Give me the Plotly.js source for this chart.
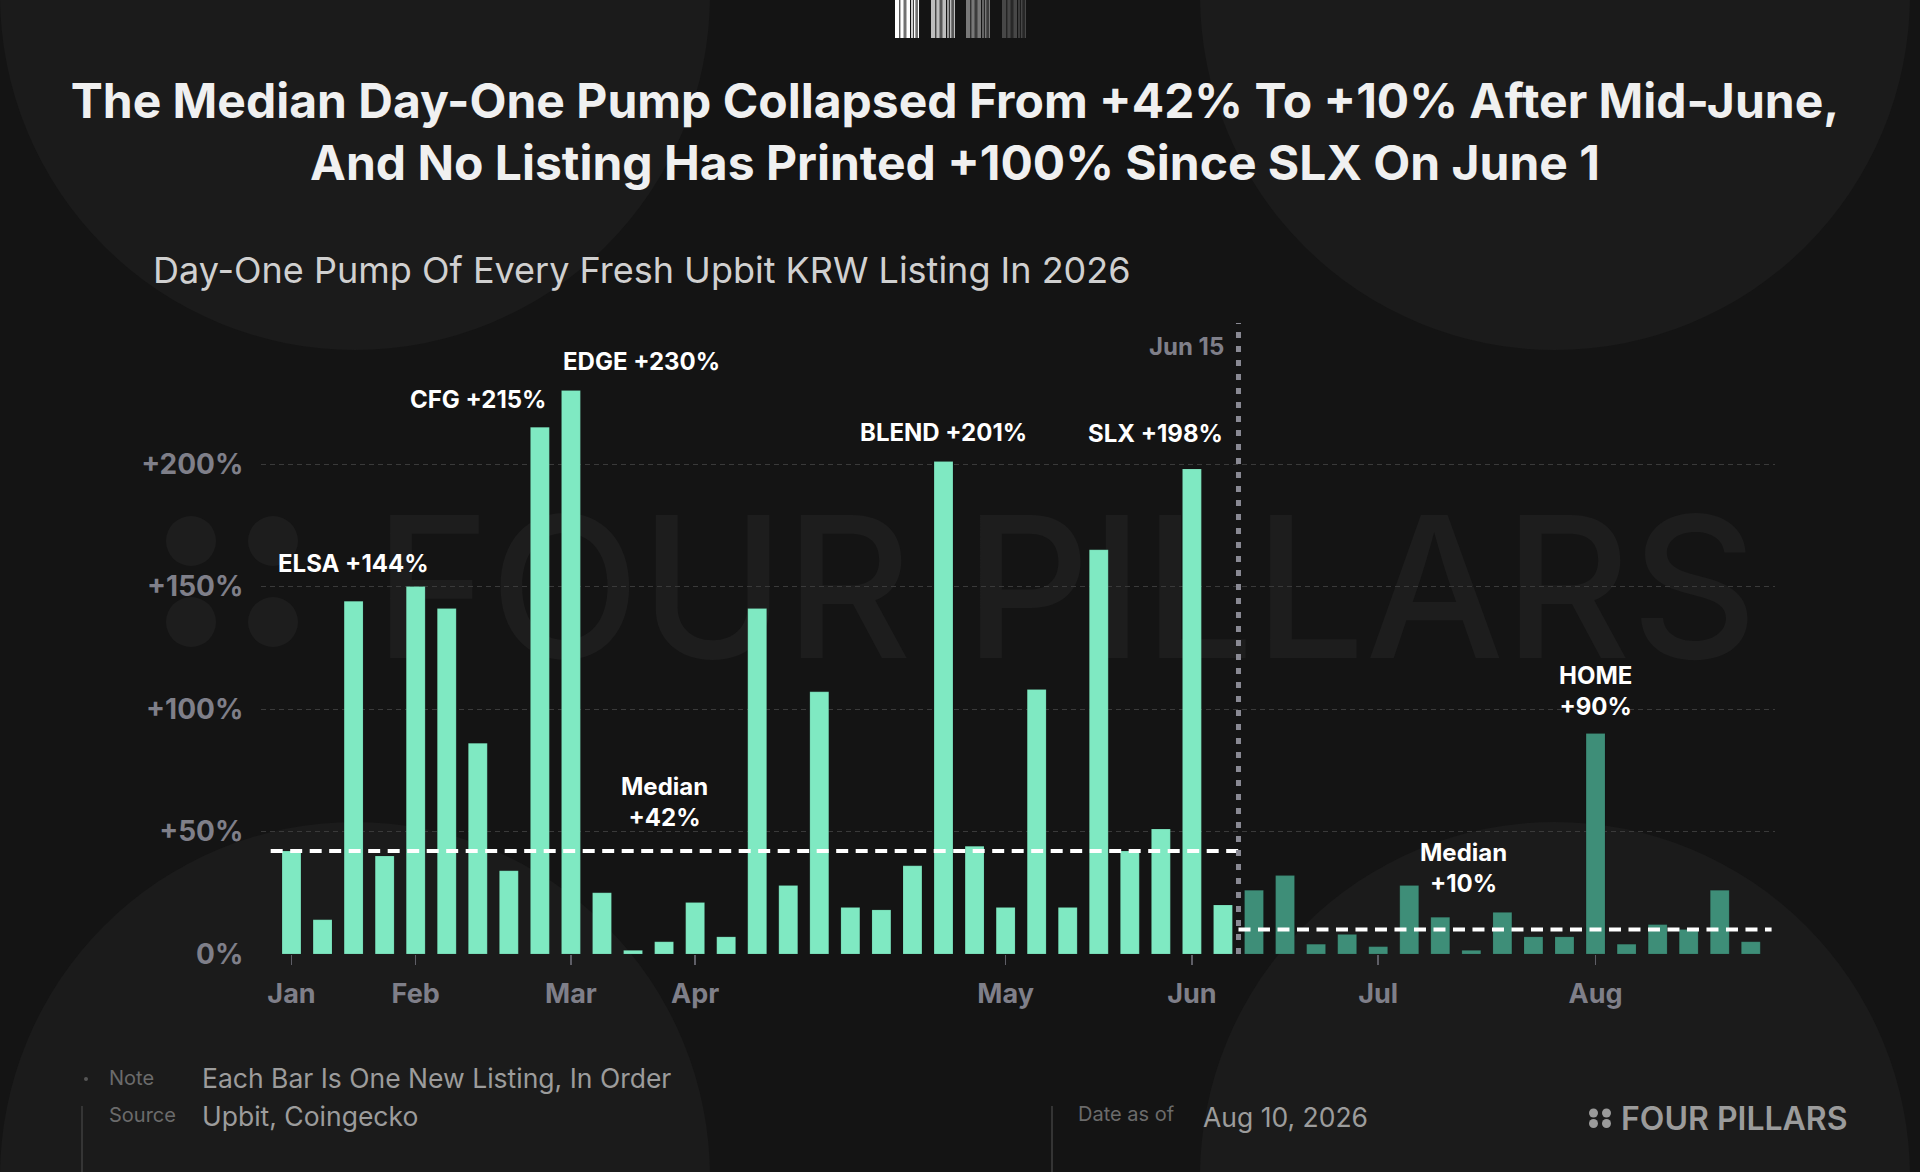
<!DOCTYPE html>
<html>
<head>
<meta charset="utf-8">
<script src="https://cdn.plot.ly/plotly-3.0.1.min.js"></script>
<style>
html,body{margin:0;padding:0;background:#141414;}
#chart{width:1920px;height:1172px;}
</style>
</head>
<body>
<div id="chart"></div>
<script>
// ---- DATA ----
const beforeValues = [42,14,144,40,150,141,86,34,215,230,25,1.5,5,21,7,141,28,107,19,18,36,201,44,19,108,19,165,42,51,198,20];
const afterValues  = [26,32,4,8,3,28,15,1.5,17,7,7,90,4,12,10,26,5];
const monthLabels  = ['Jan','Feb','Mar','Apr','May','Jun','Jul','Aug'];
const monthFirstListing = [1,5,10,14,24,30,36,43];
const yTickValues  = [0,50,100,150,200];
const yTickLabels  = ['0%','+50%','+100%','+150%','+200%'];
const labelledListings = ['ELSA','CFG','EDGE','BLEND','SLX','HOME'];
const labelledIndex    = [3,9,10,22,30,43];
const medianBefore = 42;
const medianAfter  = 10;
const cutoffLabel  = 'Jun 15';

// ---- derived ----
const allValues = beforeValues.concat(afterValues);
const xBefore = beforeValues.map((v,i)=>i+1);
const xAfter  = afterValues.map((v,i)=>beforeValues.length+i+1);
const cutoffX = beforeValues.length + 0.5;

// ---- geometry helpers (pixel -> paper) ----
const ML=261, MR=145, MT=300, MB=218, W=1920, H=1172;
const PW=W-ML-MR, PH=H-MT-MB;
const px = x => (x-ML)/PW;
const py = y => (H-MB-y)/PH;

const FONT = 'Inter, "Noto Sans", sans-serif';
const GREY = '#7f7f89';

const shapes = [];
// background circles
[[355,-5],[1555,-5],[355,1177],[1555,1177]].forEach(c=>{
  const r=355;
  shapes.push({type:'circle',xref:'paper',yref:'paper',layer:'below',
    x0:px(c[0]-r),x1:px(c[0]+r),y0:py(c[1]+r),y1:py(c[1]-r),
    fillcolor:'#1b1b1b',line:{width:0}});
});
// watermark logo dots
[[191,541],[273,541],[191,622],[273,622]].forEach(c=>{
  const r=25;
  shapes.push({type:'circle',xref:'paper',yref:'paper',layer:'below',
    x0:px(c[0]-r),x1:px(c[0]+r),y0:py(c[1]+r),y1:py(c[1]-r),
    fillcolor:'#1d1d1d',line:{width:0}});
});
// watermark text
shapes.push({type:'rect',xref:'paper',yref:'paper',layer:'below',
  x0:px(370),x1:px(1762),y0:py(680),y1:py(480),
  fillcolor:'rgba(0,0,0,0)',line:{width:0},
  label:{text:'FOUR PILLARS',textposition:'middle center',
    font:{family:FONT,size:196,color:'#1d1d1d',weight:500}}});
// barcode at top
const stripes=[[0,4.3],[5.3,8.7],[9.6,10.4],[11.3,15],[16.2,17.8],[18.8,20.6],[21.6,22.4],[23,24]];
[[895,'#ffffff'],[931,'#bdbdbd'],[966,'#787878'],[1002,'#474747']].forEach(g=>{
  stripes.forEach(s=>{
    shapes.push({type:'rect',xref:'paper',yref:'paper',layer:'above',
      x0:px(g[0]+s[0]),x1:px(g[0]+s[1]),y0:py(38),y1:py(0),
      fillcolor:g[1],line:{width:0}});
  });
});
// median lines
shapes.push({type:'line',xref:'x',yref:'y',x0:0.33,x1:cutoffX,y0:medianBefore,y1:medianBefore,
  line:{color:'#ffffff',width:4,dash:'12px,7.5px'},layer:'above'});
shapes.push({type:'line',xref:'x',yref:'y',x0:cutoffX,x1:48.67,y0:medianAfter,y1:medianAfter,
  line:{color:'#ffffff',width:4,dash:'12px,7.5px'},layer:'above'});
// cutoff vertical line
shapes.push({type:'line',xref:'x',yref:'paper',x0:cutoffX,x1:cutoffX,y0:0,y1:py(323),
  line:{color:'#8a8a94',width:5,dash:'6px,8px'},layer:'above'});
// footer lines and dots
shapes.push({type:'line',xref:'paper',yref:'paper',x0:px(82),x1:px(82),y0:py(1106),y1:py(1172),line:{color:'#3f3f3f',width:1.5}});
shapes.push({type:'line',xref:'paper',yref:'paper',x0:px(1052),x1:px(1052),y0:py(1106),y1:py(1172),line:{color:'#3f3f3f',width:1.5}});
shapes.push({type:'circle',xref:'paper',yref:'paper',x0:px(84),x1:px(88),y0:py(1081),y1:py(1077),fillcolor:'#555',line:{width:0}});
[[1593.5,1113],[1606.5,1113],[1593.5,1123.5],[1606.5,1123.5]].forEach(c=>{
  const r=4.5;
  shapes.push({type:'circle',xref:'paper',yref:'paper',
    x0:px(c[0]-r),x1:px(c[0]+r),y0:py(c[1]+r),y1:py(c[1]-r),fillcolor:'#9a9a9a',line:{width:0}});
});

const annFont = {family:FONT,size:24,color:'#ffffff',weight:700};
const annotations = [];
// listing labels
const labelStyle = {
  ELSA:{xanchor:'center',xshift:0,yshift:38},
  CFG:{xanchor:'right',xshift:9.5,yshift:28},
  EDGE:{xanchor:'left',xshift:-9.5,yshift:29.5},
  BLEND:{xanchor:'center',xshift:0,yshift:29},
  SLX:{xanchor:'right',xshift:32.6,yshift:35},
  HOME:{xanchor:'center',xshift:0,yshift:43}
};
labelledListings.forEach((name,k)=>{
  const idx = labelledIndex[k];
  const v = allValues[idx-1];
  const st = labelStyle[name];
  const txt = name==='HOME' ? name+'<br>+'+v+'%' : name+' +'+v+'%';
  annotations.push({xref:'x',yref:'y',x:idx,y:v,text:txt,showarrow:false,
    xanchor:st.xanchor,yanchor:'middle',xshift:st.xshift,yshift:st.yshift,font:annFont,align:'center'});
});
annotations.push({xref:'x',yref:'y',x:13,y:medianBefore,text:'Median<br>+'+medianBefore+'%',showarrow:false,
  xanchor:'center',yanchor:'middle',yshift:49,font:annFont,align:'center'});
annotations.push({xref:'x',yref:'y',x:38.76,y:medianAfter,text:'Median<br>+'+medianAfter+'%',showarrow:false,
  xanchor:'center',yanchor:'middle',yshift:61.5,font:annFont,align:'center'});
annotations.push({xref:'x',yref:'paper',x:cutoffX,y:py(346.6),text:cutoffLabel,showarrow:false,
  xanchor:'right',yanchor:'middle',xshift:-12,font:{family:FONT,size:24,color:GREY,weight:700}});
// subtitle
annotations.push({xref:'paper',yref:'paper',x:px(151),y:py(270),xanchor:'left',yanchor:'middle',showarrow:false,
  text:'Day-One Pump Of Every Fresh Upbit KRW Listing In 2026',font:{family:FONT,size:36,color:'#d0d0d0',weight:400}});
// footer
const smallGrey = {family:FONT,size:20,color:'#6b6b6b',weight:400};
const footText = {family:FONT,size:26.5,color:'#9c9c9c',weight:400};
annotations.push({xref:'paper',yref:'paper',x:px(107),y:py(1078),xanchor:'left',yanchor:'middle',showarrow:false,text:'Note',font:smallGrey});
annotations.push({xref:'paper',yref:'paper',x:px(107),y:py(1115),xanchor:'left',yanchor:'middle',showarrow:false,text:'Source',font:smallGrey});
annotations.push({xref:'paper',yref:'paper',x:px(200),y:py(1078),xanchor:'left',yanchor:'middle',showarrow:false,text:'Each Bar Is One New Listing, In Order',font:footText});
annotations.push({xref:'paper',yref:'paper',x:px(200),y:py(1116),xanchor:'left',yanchor:'middle',showarrow:false,text:'Upbit, Coingecko',font:footText});
annotations.push({xref:'paper',yref:'paper',x:px(1076),y:py(1114),xanchor:'left',yanchor:'middle',showarrow:false,text:'Date as of',font:smallGrey});
annotations.push({xref:'paper',yref:'paper',x:px(1201),y:py(1117),xanchor:'left',yanchor:'middle',showarrow:false,text:'Aug 10, 2026',font:footText});
annotations.push({xref:'paper',yref:'paper',x:px(1619),y:py(1118),xanchor:'left',yanchor:'middle',showarrow:false,text:'FOUR PILLARS',
  font:{family:FONT,size:32,color:'#9b9b9b',weight:600}});

const traces = [
  {type:'bar',x:xBefore,y:beforeValues,width:0.61,
   marker:{color:'#7fe9c2',line:{color:'rgba(0,0,0,0.12)',width:1}},hoverinfo:'skip',showlegend:false},
  {type:'bar',x:xAfter,y:afterValues,width:0.61,
   marker:{color:'#3e8e78',line:{color:'rgba(0,0,0,0.12)',width:1}},hoverinfo:'skip',showlegend:false}
];

const layout = {
  width:W,height:H,
  paper_bgcolor:'#141414',plot_bgcolor:'rgba(0,0,0,0)',
  margin:{l:ML,r:MR,t:MT,b:MB,pad:0},
  showlegend:false,
  barmode:'overlay',
  title:{text:'The Median Day-One Pump Collapsed From +42% To +10% After Mid-June,<br>And No Listing Has Printed +100% Since SLX On June 1',
    font:{family:FONT,size:48,color:'#f0f0f0',weight:700},
    xref:'container',x:955/W,xanchor:'center',yref:'container',y:1-117.5/H,yanchor:'middle'},
  xaxis:{range:[0.018,48.78],tickmode:'array',tickvals:monthFirstListing,ticktext:monthLabels,
    ticks:'outside',ticklen:10,tickwidth:1.5,tickcolor:'#5e5e66',showgrid:false,zeroline:false,showline:false,
    tickfont:{family:FONT,size:27,color:GREY,weight:700},ticklabelstandoff:6,fixedrange:true},
  yaxis:{range:[0,(H-MB-MT)/2.45],tickmode:'array',tickvals:yTickValues,ticktext:yTickLabels,
    ticks:'outside',ticklen:11,tickcolor:'rgba(0,0,0,0)',showgrid:true,gridcolor:'#3a3a3a',gridwidth:1,griddash:'5px,4px',
    zeroline:false,showline:false,tickfont:{family:FONT,size:28,color:GREY,weight:700},fixedrange:true},
  shapes:shapes,
  annotations:annotations
};

Plotly.newPlot('chart',traces,layout,{displayModeBar:false,staticPlot:true});
</script>
</body>
</html>
